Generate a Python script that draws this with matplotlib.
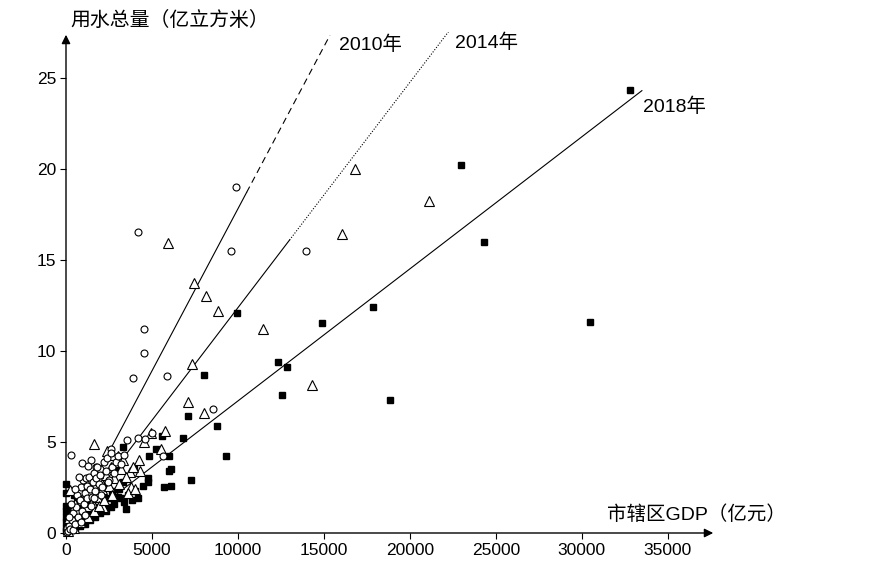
import matplotlib.pyplot as plt
import numpy as np

plt.rcParams['font.family'] = ['Liberation Sans', 'Noto Sans CJK SC', 'DejaVu Sans']

# 2010 (circles): GDP (亿元), water use (亿立方米)
x2010 = [290, 4190, 9880, 9590, 13950, 4530, 4530, 3900, 5870, 8550, 910, 1450, 1300, 1760,
         1980, 3570, 4210, 4590, 4980, 5660, 2620,
         50, 80, 120, 200, 250, 350, 400, 420, 500, 600, 650, 700, 800, 850, 950, 1000, 1050,
         1100, 1150, 1200, 1250, 1350, 1400, 1500, 1550, 1600, 1700, 1750, 1800, 1900, 2000,
         2100, 2200, 2300, 2400, 2500, 2600, 2700, 2800, 2900, 3000, 3200, 3400, 150, 300, 550,
         750, 900, 1100, 1450, 1650, 2050, 2450]
y2010 = [4.3, 16.5, 19.0, 15.5, 15.5, 11.2, 9.9, 8.5, 8.6, 6.8, 3.86, 4.0, 3.7, 3.6,
         3.5, 5.1, 5.2, 5.15, 5.5, 4.2, 4.6,
         0.05, 0.3, 0.1, 0.4, 0.2, 0.7, 0.15, 1.1, 0.5, 1.4, 2.1, 0.9, 1.8, 2.5, 1.2, 2.9, 1.6,
         2.2, 3.0, 1.9, 2.6, 3.1, 2.4, 2.0, 2.8, 3.3, 2.3, 3.0, 3.6, 2.7, 3.2,
         2.5, 3.9, 3.4, 4.1, 2.9, 4.4, 3.6, 3.3, 3.9, 4.2, 3.8, 4.3, 0.9, 1.6, 2.4,
         3.1, 0.6, 1.0, 1.5, 1.9, 2.1, 2.8]

# 2014 (triangles)
x2014 = [5910, 7460, 8140, 8860, 11470, 7340, 14320, 16780, 21100, 16060, 7090, 8000, 1630,
         4940, 5760, 4510, 5520, 4220, 4300, 3700, 3780, 250, 2400, 3000, 2170,
         100, 300, 450, 600, 700, 800, 900, 1000, 1100, 1200, 1300, 1400, 1500, 1600, 1700,
         1800, 1900, 2000, 2100, 2200, 2300, 2500, 2600, 2700, 2800, 2900, 3100, 3200, 3300,
         3500, 3600, 3900, 4000, 550, 1250, 1850, 2650, 150, 350]
y2014 = [15.9, 13.7, 13.0, 12.2, 11.2, 9.3, 8.1, 20.0, 18.2, 16.4, 7.2, 6.6, 4.9,
         5.5, 5.6, 5.0, 4.6, 4.0, 3.4, 3.35, 2.5, 2.36, 4.5, 4.2, 1.45,
         0.1, 0.5, 0.3, 0.9, 1.3, 0.6, 1.8, 1.1, 2.0, 1.5, 0.9, 2.3, 1.7, 1.2, 2.6,
         2.0, 1.5, 2.9, 2.4, 1.8, 3.2, 2.6, 3.6, 2.1, 3.0, 3.9, 2.7, 3.5, 4.0,
         3.1, 2.2, 3.6, 2.4, 1.6, 2.7, 3.3, 4.3, 0.8, 1.2]

# 2018 (filled squares)
x2018 = [22960, 17830, 14900, 12300, 12830, 12540, 18870, 9940, 8000, 7070, 8780, 32790,
         24300, 30470, 9320, 6780, 5600, 5250, 5970, 4810, 3290, 3950, 4750, 4750, 5970,
         6100, 5680, 6120, 7270, 2900, 3040, 3860, 3490,
         0, 0, 0, 0, 0, 0, 0, 0, 200, 300, 400, 500, 600, 700, 800, 900, 1000, 1100, 1200,
         1300, 1400, 1500, 1600, 1700, 1800, 1900, 2000, 2100, 2200, 2300, 2400, 2500, 2600,
         2700, 2800, 3100, 3200, 3300, 3400, 3600, 4000, 4200, 4500, 150, 350, 650, 450]
y2018 = [20.2, 12.4, 11.5, 9.4, 9.1, 7.6, 7.3, 12.1, 8.7, 6.4, 5.9, 24.3,
         16.0, 11.6, 4.2, 5.2, 5.3, 4.6, 4.2, 4.2, 4.7, 3.5, 3.0, 2.8, 3.4,
         3.5, 2.5, 2.6, 2.9, 3.6, 2.0, 1.8, 1.3,
         2.7, 2.2, 1.5, 1.2, 0.9, 0.6, 0.3, 0.1, 0.2, 0.5, 0.9, 0.3, 1.1, 0.6, 0.4, 1.3, 0.8,
         0.5, 1.5, 1.0, 0.7, 1.7, 1.2, 0.9, 1.9, 1.4, 1.1, 2.2, 1.6, 1.2, 2.5, 1.9, 1.4,
         2.3, 1.6, 2.4, 1.9, 2.8, 1.7, 2.1, 2.3, 1.9, 2.6, 0.6, 1.4, 1.9, 2.1]

# fitted lines through origin
years = ['2010年', '2014年', '2018年']
slopes = [0.00178, 0.001237, 0.000725]
solid_end = [10500, 13000, 33490]
line_end = [15350, 22330, 33490]
rest_style = [(0, (6, 4)), (0, (1, 1.5)), '-']
label_x = [15900, 22600, 33550]
label_y = [26.8, 26.9, 23.4]

fig = plt.figure(figsize=(8.78, 5.69), dpi=100)
ax = fig.add_axes([66 / 878, 36 / 569, 650 / 878, 501 / 569])
ax.set_xlim(0, 37800)
ax.set_ylim(0, 27.5)

for k in range(3):
    xs = np.array([0, solid_end[k]])
    ax.plot(xs, slopes[k] * xs, color='black', lw=0.8, zorder=2)
    xr = np.array([solid_end[k], line_end[k]])
    if line_end[k] > solid_end[k]:
        ax.plot(xr, slopes[k] * xr, color='black', lw=0.8, linestyle=rest_style[k], zorder=2)
    ax.text(label_x[k], label_y[k], years[k], ha='left', va='center', fontsize=14)

ax.plot(x2018, y2018, 's', ms=4.3, color='black', clip_on=False, zorder=3)
ax.plot(x2014, y2014, '^', ms=6.5, mfc='white', mec='black', mew=0.8, clip_on=False, zorder=4)
ax.plot(x2010, y2010, 'o', ms=5, mfc='white', mec='black', mew=0.8, clip_on=False, zorder=5)

for s in ax.spines.values():
    s.set_visible(False)
ax.annotate('', xy=(1, 0), xytext=(0, 0), xycoords='axes fraction',
            arrowprops=dict(arrowstyle='-|>', color='black', lw=1, mutation_scale=13))
ax.annotate('', xy=(0, 1), xytext=(0, 0), xycoords='axes fraction',
            arrowprops=dict(arrowstyle='-|>', color='black', lw=1, mutation_scale=13))

ax.set_xticks(np.arange(0, 35001, 5000))
ax.set_yticks(np.arange(0, 26, 5))
ax.tick_params(direction='out', length=4, width=0.8, labelsize=12.5, pad=3)

fig.text(70 / 878, 1 - 20 / 569, '用水总量（亿立方米）', ha='left', va='center', fontsize=14.3)
fig.text(607 / 878, 1 - 515 / 569, '市辖区GDP（亿元）', ha='left', va='center', fontsize=14)

fig.savefig('out.png', dpi=100)
